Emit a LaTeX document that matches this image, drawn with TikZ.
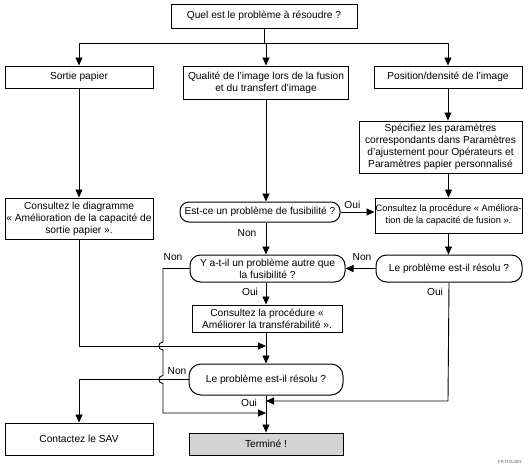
\documentclass[tikz,border=0pt]{standalone}
\usepackage{fontspec}
\setmainfont{Liberation Sans}
\usetikzlibrary{arrows.meta}
\newcommand{\fsmain}{\fontsize{10.2}{12}\selectfont}
\newcommand{\fstight}{\fontsize{9.3}{12}\selectfont}
\tikzset{
  box/.style={draw, line width=1pt, inner sep=0pt, align=center, font=\fsmain},
  rbox/.style={box, rounded corners=10.5pt},
  conn/.style={line width=0.9pt},
  arr/.style={conn, -{Triangle[length=8pt,width=7pt]}},
  lbl/.style={font=\fsmain, inner sep=0pt}
}
\begin{document}
\begin{tikzpicture}[x=1pt,y=-1pt]
\useasboundingbox (0,0) rectangle (528,472);
% nodes
\node[box, minimum width=186pt, minimum height=24pt] (q) at (264,16) {Quel est le problème à résoudre ?};
\node[box, minimum width=148pt, minimum height=22pt] (sp) at (79,77) {Sortie papier};
\node[box, minimum width=165pt, minimum height=33pt] (qi) at (266,82.5) {Qualité de l'image lors de la fusion\\et du transfert d'image};
\node[box, minimum width=148pt, minimum height=22pt] (pd) at (448,77) {Position/densité de l'image};
\node[box, minimum width=163pt, minimum height=52pt] (spec) at (440.5,147) {Spécifiez les paramètres\\correspondants dans Paramètres\\d'ajustement pour Opérateurs et\\Paramètres papier personnalisé};
\node[box, minimum width=148pt, minimum height=41pt] (diag) at (79,218.5) {Consultez le diagramme\\« Amélioration de la capacité de\\sortie papier ».};
\node[rbox, rounded corners=9pt, minimum width=160pt, minimum height=20pt] (fus) at (260,212) {Est-ce un problème de fusibilité ?};
\node[box, minimum width=147pt, minimum height=35pt, font=\fstight] (pf) at (448.5,215.5) {Consultez la procédure « Améliora-\\tion de la capacité de fusion ».};
\node[rbox, minimum width=155pt, minimum height=27pt] (yq) at (267.5,268.5) {Y a-t-il un problème autre que\\la fusibilité ?};
\node[rbox, minimum width=146pt, minimum height=27pt] (r1) at (449,268.5) {Le problème est-il résolu ?};
\node[box, minimum width=150pt, minimum height=27pt] (tr) at (267,318.5) {Consultez la procédure «\\Améliorer la transférabilité ».};
\node[rbox, rounded corners=12pt, minimum width=154pt, minimum height=31pt] (r2) at (266,379.5) {Le problème est-il résolu ?};
\node[box, fill={rgb,255:red,211;green,211;blue,211}, minimum width=154pt, minimum height=22pt] (term) at (266,444) {Terminé !};
\node[box, minimum width=148pt, minimum height=32pt] (sav) at (79,439) {Contactez le SAV};
\node[font=\fontsize{4.5}{5}\selectfont, text=black!60, inner sep=0pt] (ref) at (510,462) {FR DXU801};
% coordinates
\coordinate (br) at (264,43);
\coordinate (mx) at (266,0);
\coordinate (lx) at (163,0);
\coordinate (j1) at (163,346);
\coordinate (rb) at (448,401);
\coordinate (lb) at (163,413);
% top branch
\draw[conn] (q.south) -- (br);
\draw[conn] (sp.north |- br) -- (pd.north |- br);
\draw[arr] (sp.north |- br) -- (sp.north);
\draw[arr] (qi.north |- br) -- (qi.north);
\draw[arr] (pd.north |- br) -- (pd.north);
% left column
\draw[arr] (sp.south) -- (diag.north);
\draw[arr] (diag.south) -- (diag.south |- j1) -- (mx |- j1);
% right column
\draw[arr] (pd.south) -- (pd.south |- spec.north);
\draw[arr] (pf.north |- spec.south) -- (pf.north);
\draw[arr] (fus.east) -- (pf.west |- fus.east) node[lbl, pos=0.35, above=3pt] {Oui};
\draw[arr] (pf.south) -- (pf.south |- r1.north);
\draw[arr] (r1.west) -- (yq.east |- r1.west);
\node[lbl] at (362,257) {Non};
\draw[arr] (r1.south) -- (rb) -- (mx |- rb);
\node[lbl] at (435,292) {Oui};
% middle column
\draw[arr] (qi.south) -- (qi.south |- fus.north);
\draw[arr] (mx |- fus.south) -- (mx |- yq.north);
\node[lbl] at (247,233) {Non};
\draw[arr] (mx |- yq.south) -- (mx |- tr.north);
\node[lbl] at (250,292) {Oui};
\draw[arr] (mx |- tr.south) -- (mx |- r2.north);
\draw[arr] (mx |- r2.south) -- (mx |- term.north);
\node[lbl] at (249,403) {Oui};
% left loop with jumps (semicircles bulging left)
\draw[arr] (yq.west) -- (lx |- yq.west) -- ([yshift=4pt]j1)
  .. controls ([xshift=-5.5pt,yshift=4pt]j1) and ([xshift=-5.5pt,yshift=-4pt]j1) .. ([yshift=-4pt]j1)
  -- ([yshift=4pt]lx |- r2.west)
  .. controls ([xshift=-5.5pt,yshift=4pt]lx |- r2.west) and ([xshift=-5.5pt,yshift=-4pt]lx |- r2.west) .. ([yshift=-4pt]lx |- r2.west)
  -- (lb) -- (mx |- lb);
\node[lbl] at (173,257) {Non};
% to SAV
\draw[arr] (r2.west) -- (sav.north |- r2.west) -- (sav.north);
\node[lbl] at (177,371) {Non};
\end{tikzpicture}
\end{document}
